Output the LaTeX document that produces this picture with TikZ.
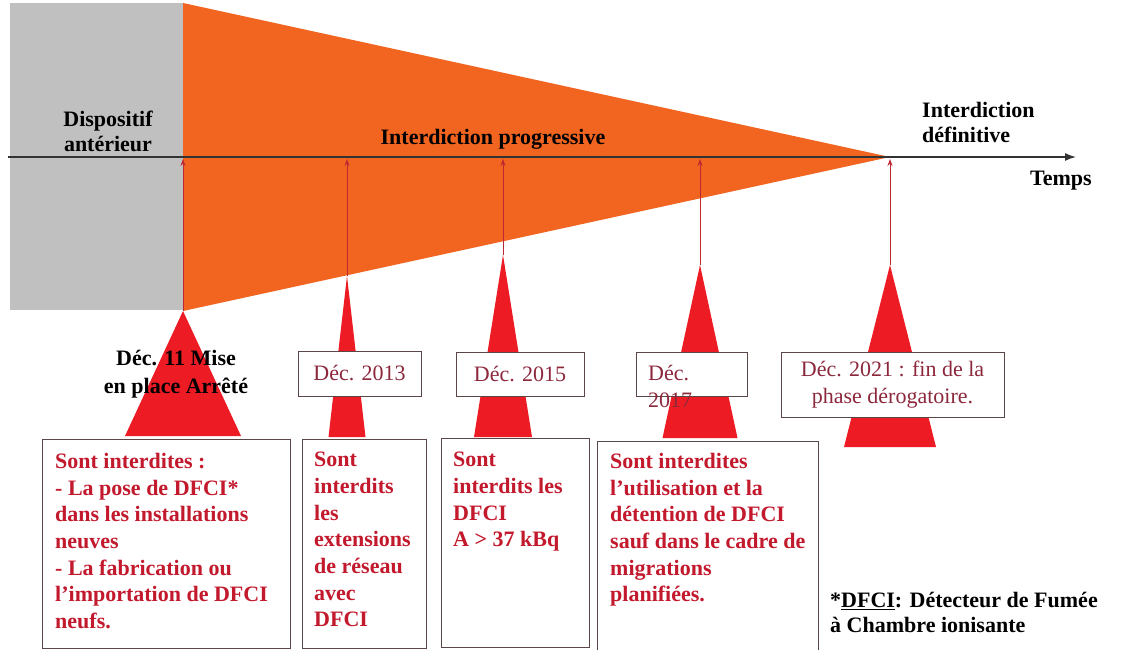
\documentclass[tikz,border=0pt]{standalone}
\usepackage{fontspec}
\setmainfont{Liberation Serif}
\usetikzlibrary{arrows.meta}

\definecolor{greyzone}{RGB}{192,192,192}
\definecolor{orangezone}{RGB}{241,101,33}
\definecolor{markred}{RGB}{237,28,36}
\definecolor{tickred}{RGB}{190,40,50}
\definecolor{boxred}{RGB}{195,25,45}
\definecolor{datered}{RGB}{140,40,60}
\definecolor{boxline}{RGB}{90,70,70}

\begin{document}
\begin{tikzpicture}[x=1pt,y=-1pt,
  headtext/.style={font=\fontsize{22}{25}\selectfont\bfseries, text=black, inner sep=0pt, align=center},
  rulestext/.style={font=\fontsize{22}{26.7}\selectfont\bfseries, text=boxred, inner sep=0pt, align=left, anchor=north west},
  datetext/.style={font=\fontsize{22}{27}\selectfont, text=datered, inner sep=0pt, align=center},
  datebox/.style={draw=boxline, fill=white, line width=1pt, inner sep=0pt},
  rulebox/.style={draw=boxline, fill=white, line width=1pt, inner sep=0pt, anchor=north west, minimum height=209},
  tickline/.style={draw=tickred, line width=0.8pt, -{Stealth[length=7pt,width=5pt]}}]
\useasboundingbox (0,0) rectangle (1129,650);
\fill[white] (0,0) rectangle (1129,650);

% zones
\fill[greyzone] (10,3) rectangle (183,310);
\fill[orangezone] (183,3) -- (890,157) -- (183,311) -- cycle;

% time axis
\coordinate (axstart) at (8,157);
\coordinate (axend) at (1076,157);
\draw[line width=1.5pt, draw=black!80, -{Latex[length=11pt,width=8pt]}] (axstart) -- (axend);

% markers: apex / base / half width
\foreach \x/\ya/\yb/\hw [count=\i] in {183/311/436/58, 347/276/437/18.5, 503/255/437/29, 700/265/438/37.5, 890/265/447/46} {
    \coordinate (apex\i) at (\x,\ya);
    \coordinate (tick\i) at (\x,159);
    \fill[markred] (apex\i) -- (\x+\hw,\yb) -- (\x-\hw,\yb) -- cycle;
    \draw[tickline] (apex\i) -- (tick\i);
}

% headings
\node[headtext] (dispo) at (108,131) {Dispositif\\antérieur};
\node[headtext, anchor=base] (prog) at (493,145) {Interdiction progressive};
\node[headtext, align=left, anchor=north west] (defin) at (922,102) {Interdiction\\définitive};
\node[headtext, anchor=base west] (temps) at (1030,185) {Temps};

% dates
\node[headtext, font=\fontsize{22}{28}\selectfont\bfseries, anchor=north] (date1) at (176,350) {Déc. 11 Mise\\en place Arrêté};
\node[datebox, datetext, minimum width=123, minimum height=45] (date2) at (359.5,373.5) {Déc. 2013};
\node[datebox, datetext, minimum width=128, minimum height=44] (date3) at (520,374) {Déc. 2015};
\node[datebox, minimum width=111, minimum height=44] (date4) at (691.5,374) {};
\node[datetext, align=left, anchor=north west] (date4txt) at (648,365) {Déc.\\2017};
\node[datebox, datetext, minimum width=223, minimum height=65] (date5) at (892.5,384.5) {Déc. 2021 : fin de la\\phase dérogatoire.};

% rules
\node[rulebox, minimum width=248] (rule1) at (42,439) {};
\node[rulebox, minimum width=124] (rule2) at (302,439) {};
\node[rulebox, minimum width=148] (rule3) at (441,438) {};
\node[rulebox, minimum width=221] (rule4) at (597,441) {};
\node[rulestext] (rule1txt) at (55,453) {Sont interdites :\\- La pose de DFCI*\\dans les installations\\neuves\\- La fabrication ou\\l’importation de DFCI\\neufs.};
\node[rulestext] (rule2txt) at (314,452) {Sont\\interdits\\les\\extensions\\de réseau\\avec\\DFCI};
\node[rulestext] (rule3txt) at (453,452) {Sont\\interdits les\\DFCI\\A > 37 kBq};
\node[rulestext] (rule4txt) at (610,453) {Sont interdites\\l’utilisation et la\\détention de DFCI\\sauf dans le cadre de\\migrations\\planifiées.};

% footnote
\node[headtext, align=left, anchor=north west] (note) at (830,592) {*\underline{DFCI}: Détecteur de Fumée\\à Chambre ionisante};
\end{tikzpicture}
\end{document}
